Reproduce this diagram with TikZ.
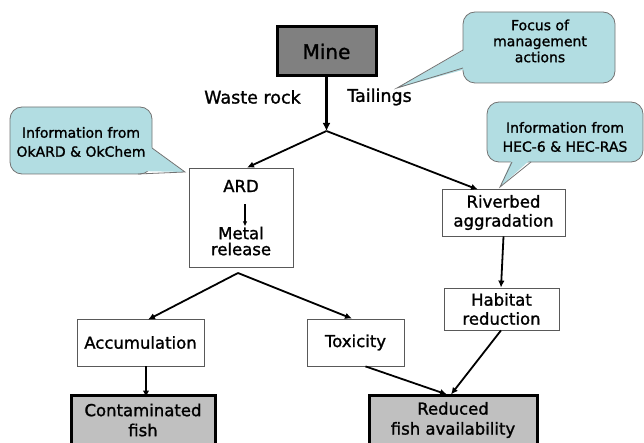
\documentclass[tikz,border=0pt]{standalone}
\usepackage{fontspec}
\setmainfont{DejaVu Sans}[BoldFont={DejaVu Sans},BoldFeatures={FakeBold=1.3}]
\usetikzlibrary{arrows.meta}
\definecolor{calloutfill}{RGB}{178,221,226}
\definecolor{minegray}{RGB}{128,128,128}
\definecolor{outgray}{RGB}{192,192,192}
\begin{document}
\begin{tikzpicture}[x=1pt,y=-1pt,
  box/.style={draw=black!65, line width=0.8pt, fill=white, inner sep=0pt, align=center,
    font=\bfseries\fontsize{16.5}{19}\selectfont},
  result/.style={draw=black, line width=3pt, fill=outgray, inner sep=0pt, align=center,
    font=\bfseries\fontsize{16.5}{20}\selectfont},
  minebox/.style={draw=black, line width=3pt, fill=minegray, inner sep=0pt,
    font=\bfseries\fontsize{20}{22}\selectfont},
  plain/.style={inner sep=1pt, align=center, font=\bfseries\fontsize{16.5}{16}\selectfont},
  lbl/.style={inner sep=1pt, font=\bfseries\fontsize{17.5}{20}\selectfont},
  conn/.style={line width=1.8pt, -{Latex[length=7pt,width=6.5pt]}},
  bigconn/.style={line width=3pt, -{Latex[length=8pt,width=8pt]}},
  thinconn/.style={line width=1.2pt, -{Latex[length=5pt,width=4.5pt]}},
  calloutshape/.style={fill=calloutfill, draw=black!55, line width=0.8pt},
  ctext/.style={inner sep=0pt, align=center, font=\bfseries\fontsize{14}{19}\selectfont}
]
\useasboundingbox (0,0) rectangle (644,443);
\clip (0,0) rectangle (644,443);

% callouts
\path[calloutshape, rounded corners=12pt] (463,12) rectangle (615,83);
\fill[calloutfill] (466,49) -- (397,88) -- (466,69) -- cycle;
\draw[black!55, line width=0.8pt] (463,50) -- (397,88) -- (463,68);
\node[ctext, font=\bfseries\fontsize{14}{16}\selectfont] (focus) at (540,41) {Focus of\\management\\actions};

\path[calloutshape, rounded corners=12pt] (10,107) rectangle (152,174);
\fill[calloutfill] (149,146) -- (185,172) -- (138,171) -- cycle;
\draw[black!55, line width=0.8pt] (152,148) -- (185,172) -- (138,174);
\node[ctext] (infoL) at (81,142) {Information from\\OkARD \& OkChem};

\path[calloutshape, rounded corners=12pt] (487,102) rectangle (643,162);
\fill[calloutfill] (512,159) -- (500,187) -- (531,159) -- cycle;
\draw[black!55, line width=0.8pt] (512,162) -- (500,187) -- (531,162);
\node[ctext] (infoR) at (565,137) {Information from\\HEC-6 \& HEC-RAS};

% main nodes
\node[minebox, minimum width=99pt, minimum height=49pt] (mine) at (326.5,51.5) {Mine};
\node[lbl] (waste) at (252.5,97) {Waste rock};
\node[lbl] (tail) at (379.5,97) {Tailings};
\coordinate (br) at (326.5,131);

\node[box, minimum width=104pt, minimum height=99pt] (ard) at (241,217.5) {};
\node[plain] (ardt) at (241,186) {ARD};
\node[plain] (metal) at (241,241) {Metal\\release};

\node[box, minimum width=123pt, minimum height=47pt] (river) at (503.5,212.5) {Riverbed\\aggradation};
\node[box, minimum width=115pt, minimum height=42pt] (habitat) at (501.5,309) {Habitat\\reduction};
\node[box, minimum width=127pt, minimum height=47pt] (accum) at (140.5,342.5) {Accumulation};
\node[box, minimum width=97pt, minimum height=47pt] (tox) at (355.5,342.5) {Toxicity};
\node[result, minimum width=144pt, minimum height=50pt] (contam) at (143,420) {Contaminated\\fish};
\node[result, minimum width=168pt, minimum height=50pt] (reduced) at (453,420) {Reduced\\fish availability};
\coordinate (ap) at (238,273);

% connectors
\draw[bigconn] (mine.south) -- (br);
\draw[conn] (br) -- ([xshift=6pt]ard.north);
\draw[conn] (br) -- ([xshift=-25.5pt,yshift=-1pt]river.north);
\draw[thinconn] ([xshift=4pt,yshift=-11pt]ardt.south) -- ([xshift=4pt,yshift=-1pt]metal.north);
\draw[conn] (ap) -- ([xshift=7.5pt,yshift=-1pt]accum.north);
\draw[conn] (ap) -- ([xshift=-3.5pt]tox.north);
\draw[conn] ([xshift=5.5pt]accum.south) -- ([xshift=3pt,yshift=-4pt]contam.north);
\draw[conn] ([xshift=10pt]tox.south) -- ([xshift=-6pt,yshift=-1pt]reduced.north);
\draw[conn] (river.south) -- ([xshift=-0.5pt]habitat.north);
\draw[conn] ([xshift=-0.5pt]habitat.south) -- ([xshift=-2pt,yshift=-1pt]reduced.north);
\end{tikzpicture}
\end{document}
